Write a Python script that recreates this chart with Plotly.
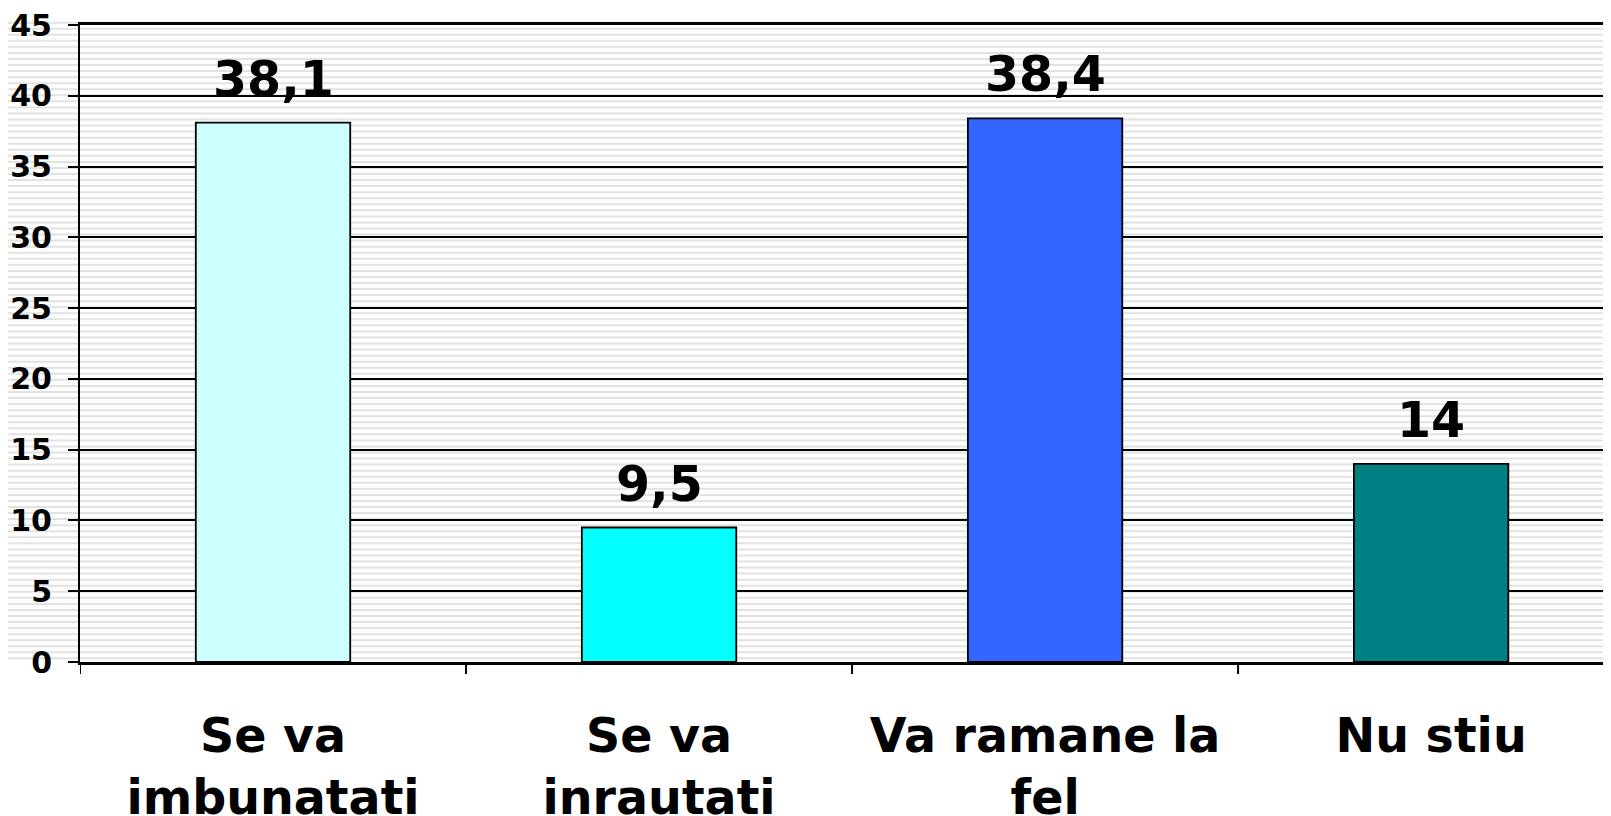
import plotly.graph_objects as go

categories = ["Se va<br>imbunatati", "Se va<br>inrautati", "Va ramane la<br>fel", "Nu stiu"]
values = [38.1, 9.5, 38.4, 14]
bar_colors = ["#CCFFFF", "#00FFFF", "#3366FF", "#008080"]
y_ticks = [0, 5, 10, 15, 20, 25, 30, 35, 40, 45]


def fmt(v):
    s = ("%g" % v)
    return s.replace(".", ",")


FONT = "DejaVu Sans, Verdana, sans-serif"
W, H = 1603, 808

fig = go.Figure()
fig.add_trace(go.Bar(
    x=list(range(len(categories))),
    y=values,
    marker=dict(color=bar_colors, line=dict(color="black", width=1.8)),
    width=0.4,
    hoverinfo="skip",
))

for i, v in enumerate(values):
    fig.add_annotation(
        x=i, y=v, text=fmt(v), showarrow=False, yanchor="bottom",
        yshift=13, font=dict(family=FONT, size=49, color="black", weight="bold"),
    )

# striped background
shapes = []
period = 7.68
y0 = 5.0 - 8
k = 0
while y0 + k * period < H:
    yp = 1 - (y0 + k * period) / H
    shapes.append(dict(type="line", xref="paper", yref="paper", x0=-0.1, x1=1.1,
                       y0=yp, y1=yp, line=dict(color="#e2e2e2", width=2), layer="below"))
    k += 1

fig.update_layout(
    template="none",
    width=W, height=H,
    margin=dict(l=72, r=0, t=17, b=154),
    paper_bgcolor="white",
    plot_bgcolor="rgba(0,0,0,0)",
    showlegend=False,
    bargap=0.6,
    shapes=shapes,
    xaxis=dict(
        automargin=False,
        tickmode="array",
        tickvals=list(range(len(categories))),
        ticktext=categories,
        range=[-0.5, 3.466],
        showgrid=False,
        zeroline=False,
        showline=True, linecolor="black", linewidth=2.5, mirror=True,
        ticks="",
        tickfont=dict(family=FONT, size=47.5, color="black", weight="bold"),
        ticklabelstandoff=30,
    ),
    yaxis=dict(
        automargin=False,
        range=[0, 45],
        tickmode="array",
        tickvals=y_ticks,
        showgrid=True, gridcolor="black", gridwidth=2,
        zeroline=False,
        showline=True, linecolor="black", linewidth=2,
        ticks="outside", ticklen=10, tickwidth=2, tickcolor="black",
        tickfont=dict(family=FONT, size=30, color="black", weight="bold"),
        ticklabelstandoff=10,
        ticklabeloverflow="allow",
    ),
)

# boundary ticks between categories
for b in [-0.5, 0.5, 1.5, 2.5]:
    fig.add_shape(type="line", xref="x", yref="paper", x0=b, x1=b, y0=0, y1=-12 / 637,
                  line=dict(color="black", width=2))

fig.write_html("out.html")
